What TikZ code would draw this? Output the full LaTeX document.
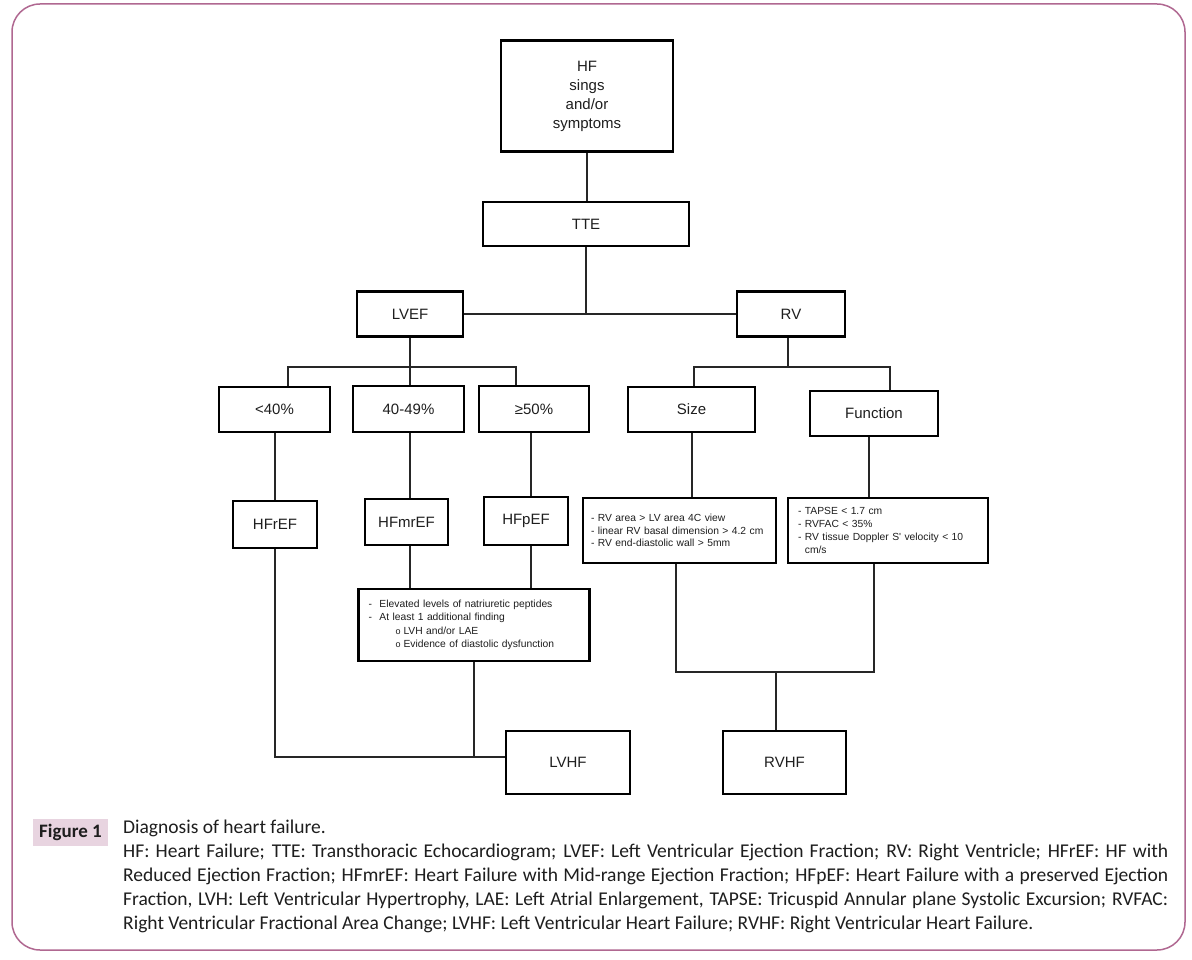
\documentclass[tikz,border=0pt]{standalone}
\usepackage{fontspec}
\newfontfamily\arialf{Liberation Sans}
\newfontfamily\calib{Carlito}
\definecolor{framecol}{RGB}{176,104,145}
\definecolor{figbg}{RGB}{232,212,224}
\definecolor{txt}{RGB}{30,30,30}
\begin{document}
\begin{tikzpicture}[x=1pt,y=-1pt,
  box/.style={draw=black, line width=2.6pt, fill=white, inner sep=0pt,
    font=\arialf\fontsize{15}{19}\selectfont, text=txt, align=center},
  listbox/.style={draw=black, line width=2.6pt, fill=white, inner ysep=0pt,
    font=\arialf\fontsize{10.3}{12.8}\selectfont, text=txt, align=left},
  conn/.style={line width=2pt, draw=black!85}]
\useasboundingbox (0,0) rectangle (1192,960);
\fill[white] (0,0) rectangle (1192,960);
\draw[framecol, line width=1.5pt, rounded corners=28pt] (12,4) rectangle (1185,950);

% nodes
\node[box, minimum width=172, minimum height=111] (hf) at (587,96) {HF\\sings\\and/or\\symptoms};
\node[box, minimum width=206, minimum height=44] (tte) at (586,224) {TTE};
\node[box, minimum width=106, minimum height=45] (lvef) at (410,314) {LVEF};
\node[box, minimum width=108, minimum height=45] (rv) at (791,314) {RV};
\node[box, minimum width=111, minimum height=45] (lt) at (274.5,409.5) {<40\%};
\node[box, minimum width=111, minimum height=46] (mid) at (408.5,409) {40-49\%};
\node[box, minimum width=110, minimum height=46] (ge) at (534,409) {≥50\%};
\node[box, minimum width=127, minimum height=45] (size) at (691.5,409.5) {Size};
\node[box, minimum width=128, minimum height=45] (func) at (874,413.5) {Function};
\node[box, minimum width=84, minimum height=47] (hfref) at (275,524.5) {HFrEF};
\node[box, minimum width=83, minimum height=46] (hfmref) at (406.5,522) {HFmrEF};
\node[box, minimum width=84, minimum height=48] (hfpef) at (526,521) {HFpEF};
\node[listbox, text width=177, inner xsep=8pt, minimum height=65] (sizelist) at (679.5,530.5)
  {- RV area > LV area 4C view\\- linear RV basal dimension > 4.2 cm\\- RV end-diastolic wall > 5mm};
\node[listbox, text width=180, inner xsep=10pt, minimum height=65] (funclist) at (888,530.5)
  {- TAPSE < 1.7 cm\\- RVFAC < 35\%\\- RV tissue Doppler S' velocity < 10\\\phantom{- }cm/s};
\node[listbox, text width=211, inner xsep=10pt, minimum height=72,
  font=\arialf\fontsize{10.3}{13.5}\selectfont] (evid) at (474,625)
  {\makebox[11pt][l]{-}Elevated levels of natriuretic peptides\\
   \makebox[11pt][l]{-}At least 1 additional finding\\
   \hspace*{27pt}\makebox[8pt][l]{\fontsize{9}{9}\selectfont o}LVH and/or LAE\\
   \hspace*{27pt}\makebox[8pt][l]{\fontsize{9}{9}\selectfont o}Evidence of diastolic dysfunction};
\node[box, minimum width=124, minimum height=63] (lvhf) at (568,762.5) {LVHF};
\node[box, minimum width=123, minimum height=63] (rvhf) at (784.5,762.5) {RVHF};

% bus coordinates
\coordinate (lbL) at (288,366.5);
\coordinate (lbR) at (515.5,366.5);
\coordinate (rbL) at (694,366.5);
\coordinate (rbR) at (890,366.5);
\coordinate (uL) at (676,672);
\coordinate (uR) at (874,672);
\coordinate (uM) at (776,672);
\coordinate (lL) at (275,756.5);

% connectors
\draw[conn] (hf.south) -- (hf.south |- tte.north);
\draw[conn] (tte.south) -- (tte.south |- lvef.east);
\draw[conn] (lvef.east) -- (rv.west);
\draw[conn] (lvef.south) -- (lvef.south |- mid.north);
\draw[conn] (lt.north -| lbL) -- (lbL) -- (lbR) -- (lbR |- ge.north);
\draw[conn] ([xshift=-3pt]rv.south) -- ([xshift=-3pt]rv.south |- rbL);
\draw[conn] (size.north -| rbL) -- (rbL) -- (rbR) -- (rbR |- func.north);
\draw[conn] (lt.south) -- (lt.south |- hfref.north);
\draw[conn] (mid.south -| lvef.south) -- (hfmref.north -| lvef.south);
\draw[conn] ([xshift=-3pt]ge.south) -- ([xshift=-3pt]ge.south |- hfpef.north);
\draw[conn] ([xshift=5pt]hfpef.south) -- ([xshift=5pt]hfpef.south |- evid.north);
\draw[conn] (hfmref.south -| lvef.south) -- (evid.north -| lvef.south);
\draw[conn] (size.south) -- (size.south |- sizelist.north);
\draw[conn] ([xshift=-5pt]func.south) -- ([xshift=-5pt]func.south |- funclist.north);
\draw[conn] (sizelist.south -| uL) -- (uL) -- (uR) -- (funclist.south -| uR);
\draw[conn] (uM) -- (uM |- rvhf.north);
\draw[conn] (hfref.south) -- (hfref.south |- lL) -- (lvhf.west |- lL);
\draw[conn] (evid.south) -- (evid.south |- lL);

% caption
\node[fill=figbg, minimum width=75, minimum height=27, inner sep=0pt,
  font=\calib\bfseries\fontsize{19}{22}\selectfont, text=txt] (figlab) at (70.5,832) {Figure 1};
\node[anchor=base west, text width=1045, inner sep=0pt, align=justify,
  font=\calib\fontsize{19.5}{24}\selectfont, text=txt] (cap) at (123,833)
  {Diagnosis of heart failure.\par\noindent
   HF: Heart Failure; TTE: Transthoracic Echocardiogram; LVEF: Left Ventricular Ejection Fraction; RV: Right Ventricle; HFrEF: HF with\linebreak
   Reduced Ejection Fraction; HFmrEF: Heart Failure with Mid-range Ejection Fraction; HFpEF: Heart Failure with a preserved Ejection\linebreak
   Fraction, LVH: Left Ventricular Hypertrophy, LAE: Left Atrial Enlargement, TAPSE: Tricuspid Annular plane Systolic Excursion; RVFAC:\linebreak
   Right Ventricular Fractional Area Change; LVHF: Left Ventricular Heart Failure; RVHF: Right Ventricular Heart Failure.};
\end{tikzpicture}
\end{document}
